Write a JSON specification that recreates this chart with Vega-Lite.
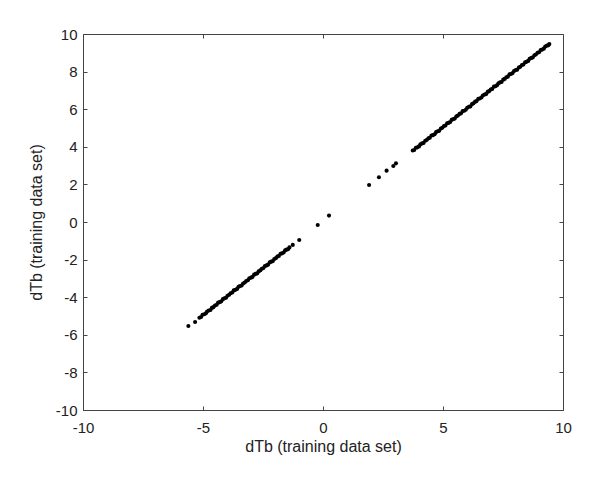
{
  "$schema": "https://vega.github.io/schema/vega-lite/v6.json",
  "autosize": "none",
  "width": 480,
  "height": 376,
  "padding": {"left": 83, "top": 34, "right": 37, "bottom": 67},
  "background": "white",
  "config": {
    "view": {"stroke": "#444", "strokeWidth": 1},
    "font": "Liberation Sans",
    "axis": {
      "grid": false,
      "domainColor": "#444",
      "tickColor": "#444",
      "tickSize": 4,
      "labelFlush": false,
      "labelFont": "Liberation Sans",
      "labelFontSize": 15,
      "labelColor": "#222",
      "titleFont": "Liberation Sans",
      "titleFontSize": 16,
      "titleFontWeight": "normal",
      "titleColor": "#222"
    }
  },
  "data": {
    "values": [
      {"x": -5.61, "y": -5.53}, {"x": -5.33, "y": -5.32},
      {"x": -5.15, "y": -5.09}, {"x": -5.08, "y": -5.05}, {"x": -5.02, "y": -4.94}, {"x": -4.95, "y": -4.91},
      {"x": -4.88, "y": -4.86}, {"x": -4.83, "y": -4.76}, {"x": -4.76, "y": -4.71}, {"x": -4.69, "y": -4.68},
      {"x": -4.63, "y": -4.57}, {"x": -4.57, "y": -4.53}, {"x": -4.5, "y": -4.44}, {"x": -4.43, "y": -4.4},
      {"x": -4.37, "y": -4.29}, {"x": -4.3, "y": -4.26}, {"x": -4.24, "y": -4.22}, {"x": -4.17, "y": -4.1},
      {"x": -4.11, "y": -4.06}, {"x": -4.04, "y": -4.03}, {"x": -3.98, "y": -3.92}, {"x": -3.91, "y": -3.87},
      {"x": -3.85, "y": -3.79}, {"x": -3.78, "y": -3.75}, {"x": -3.72, "y": -3.64}, {"x": -3.65, "y": -3.61},
      {"x": -3.58, "y": -3.56}, {"x": -3.52, "y": -3.45}, {"x": -3.46, "y": -3.41}, {"x": -3.39, "y": -3.38},
      {"x": -3.33, "y": -3.27}, {"x": -3.26, "y": -3.22}, {"x": -3.2, "y": -3.14}, {"x": -3.13, "y": -3.1},
      {"x": -3.07, "y": -2.99}, {"x": -3.0, "y": -2.96}, {"x": -2.94, "y": -2.92}, {"x": -2.87, "y": -2.8},
      {"x": -2.81, "y": -2.76}, {"x": -2.74, "y": -2.73}, {"x": -2.68, "y": -2.62}, {"x": -2.61, "y": -2.57},
      {"x": -2.55, "y": -2.49}, {"x": -2.48, "y": -2.45}, {"x": -2.42, "y": -2.34}, {"x": -2.35, "y": -2.31},
      {"x": -2.29, "y": -2.27}, {"x": -2.22, "y": -2.15}, {"x": -2.16, "y": -2.11}, {"x": -2.09, "y": -2.08},
      {"x": -2.03, "y": -1.97}, {"x": -1.96, "y": -1.92}, {"x": -1.9, "y": -1.84}, {"x": -1.84, "y": -1.81},
      {"x": -1.77, "y": -1.69}, {"x": -1.71, "y": -1.67}, {"x": -1.64, "y": -1.62}, {"x": -1.58, "y": -1.51},
      {"x": -1.52, "y": -1.47}, {"x": -1.46, "y": -1.45}, {"x": -1.4, "y": -1.35},
      {"x": -1.26, "y": -1.22}, {"x": -0.99, "y": -0.96}, {"x": -0.22, "y": -0.16}, {"x": 0.25, "y": 0.34},
      {"x": 1.92, "y": 1.97}, {"x": 2.33, "y": 2.38}, {"x": 2.65, "y": 2.73}, {"x": 2.93, "y": 2.98}, {"x": 3.04, "y": 3.12},
      {"x": 3.74, "y": 3.8}, {"x": 3.8, "y": 3.83}, {"x": 3.87, "y": 3.95}, {"x": 3.93, "y": 3.97},
      {"x": 4.0, "y": 4.02}, {"x": 4.06, "y": 4.13}, {"x": 4.13, "y": 4.18}, {"x": 4.19, "y": 4.2},
      {"x": 4.26, "y": 4.32}, {"x": 4.32, "y": 4.36}, {"x": 4.39, "y": 4.45}, {"x": 4.45, "y": 4.48},
      {"x": 4.52, "y": 4.6}, {"x": 4.58, "y": 4.62}, {"x": 4.65, "y": 4.67}, {"x": 4.71, "y": 4.78},
      {"x": 4.78, "y": 4.83}, {"x": 4.84, "y": 4.85}, {"x": 4.91, "y": 4.97}, {"x": 4.97, "y": 5.01},
      {"x": 5.04, "y": 5.1}, {"x": 5.1, "y": 5.13}, {"x": 5.17, "y": 5.25}, {"x": 5.23, "y": 5.27},
      {"x": 5.3, "y": 5.32}, {"x": 5.36, "y": 5.43}, {"x": 5.43, "y": 5.48}, {"x": 5.49, "y": 5.5},
      {"x": 5.56, "y": 5.62}, {"x": 5.62, "y": 5.66}, {"x": 5.69, "y": 5.75}, {"x": 5.75, "y": 5.78},
      {"x": 5.82, "y": 5.9}, {"x": 5.88, "y": 5.92}, {"x": 5.95, "y": 5.97}, {"x": 6.01, "y": 6.08},
      {"x": 6.08, "y": 6.13}, {"x": 6.14, "y": 6.15}, {"x": 6.21, "y": 6.27}, {"x": 6.27, "y": 6.31},
      {"x": 6.34, "y": 6.4}, {"x": 6.4, "y": 6.43}, {"x": 6.47, "y": 6.55}, {"x": 6.53, "y": 6.57},
      {"x": 6.6, "y": 6.62}, {"x": 6.66, "y": 6.73}, {"x": 6.73, "y": 6.78}, {"x": 6.79, "y": 6.8},
      {"x": 6.86, "y": 6.92}, {"x": 6.92, "y": 6.96}, {"x": 6.99, "y": 7.05}, {"x": 7.05, "y": 7.08},
      {"x": 7.12, "y": 7.2}, {"x": 7.18, "y": 7.22}, {"x": 7.25, "y": 7.27}, {"x": 7.31, "y": 7.38},
      {"x": 7.38, "y": 7.43}, {"x": 7.44, "y": 7.45}, {"x": 7.51, "y": 7.57}, {"x": 7.57, "y": 7.61},
      {"x": 7.64, "y": 7.7}, {"x": 7.7, "y": 7.73}, {"x": 7.77, "y": 7.85}, {"x": 7.83, "y": 7.87},
      {"x": 7.9, "y": 7.92}, {"x": 7.96, "y": 8.03}, {"x": 8.03, "y": 8.08}, {"x": 8.09, "y": 8.1},
      {"x": 8.16, "y": 8.22}, {"x": 8.22, "y": 8.26}, {"x": 8.29, "y": 8.35}, {"x": 8.35, "y": 8.38},
      {"x": 8.42, "y": 8.5}, {"x": 8.48, "y": 8.52}, {"x": 8.55, "y": 8.57}, {"x": 8.61, "y": 8.68},
      {"x": 8.68, "y": 8.73}, {"x": 8.74, "y": 8.75}, {"x": 8.81, "y": 8.87}, {"x": 8.87, "y": 8.91},
      {"x": 8.94, "y": 9.0}, {"x": 9.0, "y": 9.03}, {"x": 9.07, "y": 9.15}, {"x": 9.13, "y": 9.17},
      {"x": 9.2, "y": 9.22}, {"x": 9.26, "y": 9.33}, {"x": 9.33, "y": 9.38}, {"x": 9.39, "y": 9.4},
      {"x": 9.43, "y": 9.47}
    ]
  },
  "layer": [
    {
      "mark": {"type": "point", "filled": true, "shape": "circle", "size": 17, "color": "black", "opacity": 1},
      "encoding": {
        "x": {
          "field": "x", "type": "quantitative",
          "scale": {"domain": [-10, 10], "nice": false, "zero": false},
          "axis": {"orient": "bottom", "values": [-10, -5, 0, 5, 10], "labelExpr": "datum.value + ''", "ticks": false, "title": "dTb (training data set)", "labelPadding": 10, "titlePadding": 3}
        },
        "y": {
          "field": "y", "type": "quantitative",
          "scale": {"domain": [-10, 10], "nice": false, "zero": false},
          "axis": {"orient": "left", "values": [-10, -8, -6, -4, -2, 0, 2, 4, 6, 8, 10], "labelExpr": "datum.value + ''", "ticks": false, "title": "dTb (training data set)", "labelPadding": 6, "titlePadding": 11}
        }
      }
    },
    {
      "mark": {"type": "point", "opacity": 0},
      "encoding": {
        "x": {
          "field": "x", "type": "quantitative",
          "scale": {"domain": [-10, 10], "nice": false, "zero": false},
          "axis": {"orient": "top", "offset": -376, "values": [-10, -5, 0, 5, 10], "labels": false, "title": null, "domain": false}
        },
        "y": {
          "field": "y", "type": "quantitative",
          "scale": {"domain": [-10, 10], "nice": false, "zero": false},
          "axis": {"orient": "right", "offset": -480, "values": [-10, -8, -6, -4, -2, 0, 2, 4, 6, 8, 10], "labels": false, "title": null, "domain": false}
        }
      }
    },
    {
      "mark": {"type": "point", "opacity": 0},
      "encoding": {
        "x": {
          "field": "x", "type": "quantitative",
          "scale": {"domain": [-10, 10], "nice": false, "zero": false},
          "axis": {"orient": "bottom", "offset": -376, "values": [-10, -5, 0, 5, 10], "labels": false, "title": null, "domain": false}
        },
        "y": {
          "field": "y", "type": "quantitative",
          "scale": {"domain": [-10, 10], "nice": false, "zero": false},
          "axis": {"orient": "left", "offset": -480, "values": [-10, -8, -6, -4, -2, 0, 2, 4, 6, 8, 10], "labels": false, "title": null, "domain": false}
        }
      }
    }
  ],
  "resolve": {"axis": {"x": "independent", "y": "independent"}}
}
